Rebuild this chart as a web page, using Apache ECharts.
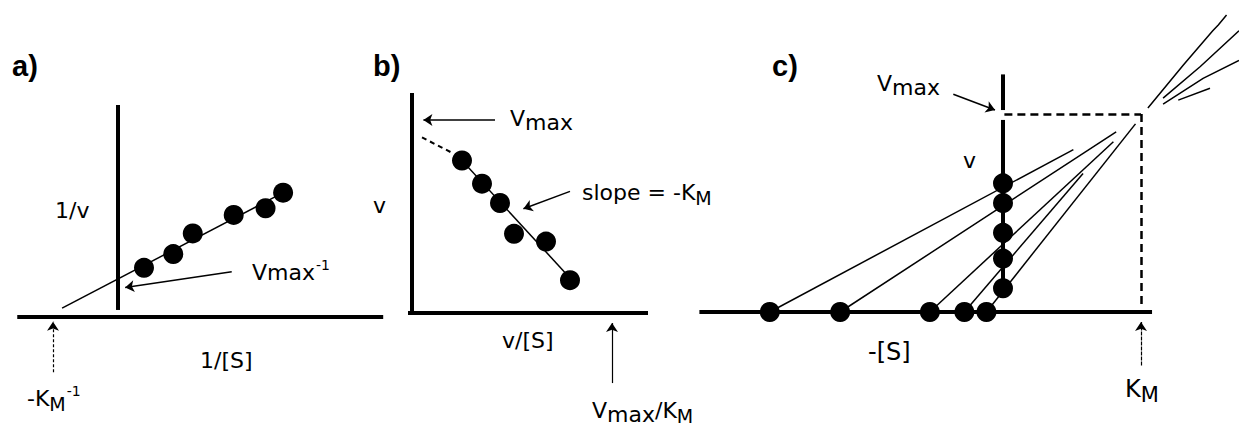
<!DOCTYPE html>
<html>
<head>
<meta charset="utf-8">
<title>Enzyme kinetics plots</title>
<script src="https://cdn.jsdelivr.net/npm/echarts@6/dist/echarts.min.js"></script>
<style>
  html, body { margin: 0; padding: 0; background: #fff; }
  #chart { width: 1239px; height: 428px; }
</style>
</head>
<body>
<div id="chart"></div>
<script>
// a) Lineweaver-Burk: 1/[S] against 1/v
const lbInvS = [0.40, 0.85, 1.15, 1.78, 2.27, 2.54];
const lbInvV = [1.33, 1.70, 2.26, 2.76, 2.94, 3.36];
const lbFit = [[-0.86, 0.24], [2.54, 3.36]];
const lbInvKm = -1.0;      // -1/KM
const lbInvVmax = 0.80;    // 1/Vmax

// b) Eadie-Hofstee: v/[S] against v
const ehVS = [0.25, 0.35, 0.44, 0.51, 0.67, 0.79];
const ehV = [0.79, 0.67, 0.57, 0.41, 0.37, 0.17];
const ehFit = [[0.25, 0.79], [0.80, 0.17]];
const ehExtrap = [[0.05, 0.91], [0.20, 0.83]];
const ehVmax = 1.0;
const ehVmaxKm = 1.0;

// c) direct linear plot: lines from (-[S], 0) through (0, v)
const dlS = [1.69, 1.18, 0.53, 0.28, 0.12];
const dlV = [0.65, 0.55, 0.40, 0.27, 0.12];
const dlEndX = [0.51, 0.82, 0.80, 0.58, 0.96];
const dlEndY = [0.82, 0.91, 0.86, 0.70, 0.95];
const dlBeyond = [
  [[1.05, 1.03], [1.31, 1.25], [1.52, 1.42], [1.56, 1.45], [1.62, 1.50]],
  [[1.16, 1.08], [1.43, 1.24], [1.71, 1.42]],
  [[1.16, 1.05], [1.45, 1.18], [1.71, 1.27]],
  [[1.27, 1.07], [1.50, 1.13]]
];
const dlKm = 1.0;
const dlVmax = 1.0;

const W = 1239, H = 428;
// origin (px) and px per unit of every panel
const panels = [
  { ox: 118, oy: 317, ux: 65, uy: 37 },
  { ox: 412, oy: 313, ux: 200, uy: 193 },
  { ox: 1003, oy: 312, ux: 138, uy: 198 }
];
const FONT = '"DejaVu Sans", sans-serif';

function seg(g, list, width, dash, arrow) {
  return {
    type: 'lines', coordinateSystem: 'cartesian2d',
    xAxisIndex: g, yAxisIndex: g,
    data: list.map(c => ({ coords: c })),
    lineStyle: { color: '#000', width: width, type: dash || 'solid', opacity: 1, curveness: 0 },
    symbol: arrow ? ['none', 'arrow'] : 'none',
    symbolSize: arrow ? 9 : 0,
    silent: true, z: 2
  };
}
function poly(g, list, width) {
  return {
    type: 'lines', coordinateSystem: 'cartesian2d', polyline: true,
    xAxisIndex: g, yAxisIndex: g,
    data: list.map(c => ({ coords: c })),
    lineStyle: { color: '#000', width: width, opacity: 1 },
    silent: true, z: 2
  };
}
function dots(g, pts) {
  return {
    type: 'scatter', xAxisIndex: g, yAxisIndex: g,
    data: pts, symbol: 'circle', symbolSize: 20,
    itemStyle: { color: '#000', opacity: 1 }, silent: true, z: 3
  };
}

// text with sub/superscripts, placed by its left edge and cap top
function label(left, capTop, text, size) {
  size = size || 22;
  const y = capTop - 0.117 * size - 8;
  const s2 = Math.round(0.86 * size);
  const mCenter = capTop + 0.729 * size + 5 - 0.346 * s2;
  const rich = {
    b: { fontSize: size, fontFamily: FONT, padding: [8, 0, 0, 0], verticalAlign: 'top' },
    s: { fontSize: size, fontFamily: FONT, padding: [12, 0, 0, 0], verticalAlign: 'top' },
    m: { fontSize: s2, fontFamily: FONT, padding: [mCenter - y - s2 / 2, 0, 0, 0], verticalAlign: 'top' },
    u: { fontSize: 14, fontFamily: FONT, padding: [capTop + 1 - y - 7, 0, 0, 1], verticalAlign: 'top' }
  };
  return {
    type: 'text', x: left, y: y, silent: true,
    style: { text: text, rich: rich, fill: '#000', align: 'left', verticalAlign: 'top',
             font: size + 'px ' + FONT }
  };
}
function letter(left, text) {
  return {
    type: 'text', x: left, y: 66, silent: true,
    style: { text: text, fill: '#000', align: 'left', verticalAlign: 'middle',
             font: 'bold 29px "Liberation Sans", Arial, sans-serif' }
  };
}

const chart = echarts.init(document.getElementById('chart'), null, { renderer: 'svg' });

const option = {
  animation: false,
  backgroundColor: '#fff',
  grid: panels.map(() => ({ left: 0, top: 0, width: W, height: H })),
  xAxis: panels.map((p, i) => ({
    type: 'value', gridIndex: i, show: false,
    min: -p.ox / p.ux, max: (W - p.ox) / p.ux
  })),
  yAxis: panels.map((p, i) => ({
    type: 'value', gridIndex: i, show: false,
    min: -(H - p.oy) / p.uy, max: p.oy / p.uy
  })),
  series: [
    // a)
    seg(0, [[[-1.55, 0], [4.08, 0]], [[0, 0.19], [0, 5.73]]], 4),
    seg(0, [lbFit], 1.5),
    dots(0, lbInvS.map((x, i) => [x, lbInvV[i]])),
    seg(0, [[[1.75, 1.22], [0.11, lbInvVmax]]], 1.5, null, true),
    seg(0, [[[lbInvKm, -1.49], [lbInvKm, -0.13]]], 1.2, [3, 2], true),

    // b)
    seg(1, [[[-0.02, 0], [1.18, 0]], [[0, 0], [0, 1.14]]], 4),
    seg(1, [ehExtrap], 2, [5, 4]),
    seg(1, [ehFit], 1.5),
    dots(1, ehVS.map((x, i) => [x, ehV[i]])),
    seg(1, [[[0.415, ehVmax], [0.057, ehVmax]], [[0.79, 0.63], [0.557, 0.54]]], 1.5, null, true),
    seg(1, [[[ehVmaxKm, -0.363], [ehVmaxKm, -0.052]]], 1.2, null, true),

    // c)
    seg(2, [[[-2.2, 0], [1.08, 0]], [[0, 1.02], [0, 1.2]], [[0, 0.97], [0, 0.12]]], 4),
    seg(2, [[[0.01, dlVmax], [dlKm, dlVmax]], [[dlKm, dlVmax], [dlKm, 0.035]]], 2.5, [8, 5]),
    seg(2, dlS.map((s, i) => [[-s, 0], [dlEndX[i], dlEndY[i]]]), 1.5),
    poly(2, dlBeyond, 1.5),
    dots(2, dlS.map(s => [-s, 0]).concat(dlV.map(v => [0, v]))),
    seg(2, [[[-0.36, 1.10], [-0.058, 1.02]]], 1.5, null, true),
    seg(2, [[[dlKm, -0.27], [dlKm, -0.05]]], 1.2, [4, 1], true)
  ],
  graphic: [
    letter(12, 'a)'), letter(373, 'b)'), letter(772, 'c)'),
    label(55, 202, '{b|1/v}'),
    label(200, 352, '{b|1/[S]}'),
    label(252, 264, '{b|Vmax}{u|-1}'),
    label(27, 390, '{b|-K}{m|M}{u|-1}'),
    label(373, 197, '{b|v}'),
    label(510, 110, '{b|V}{s|max}'),
    label(582, 184, '{b|slope = -K}{m|M}'),
    label(502, 332, '{b|v/[S]}'),
    label(592, 402, '{b|V}{s|max}{b|/K}{m|M}'),
    label(877, 75, '{b|V}{s|max}'),
    label(963, 152, '{b|v}'),
    label(868, 343, '{b|-[S]}', 24),
    label(1125, 380, '{b|K}{m|M}', 24)
  ]
};
chart.setOption(option);
</script>
</body>
</html>
